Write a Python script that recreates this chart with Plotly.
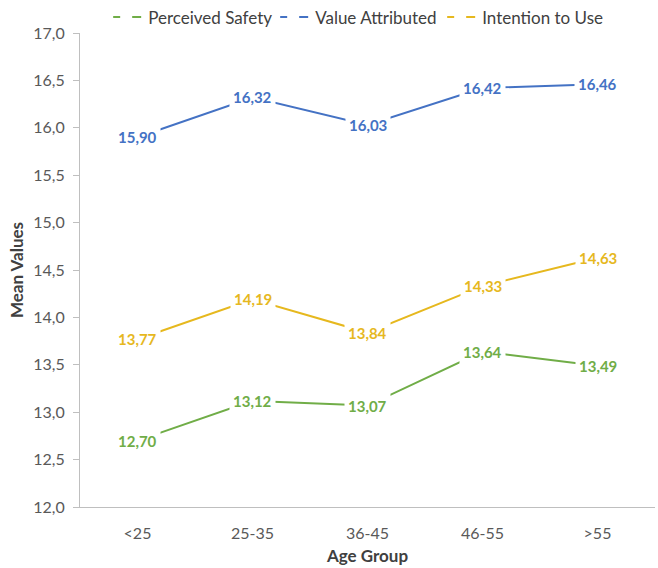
import plotly.graph_objects as go

age_groups = ["<25", "25-35", "36-45", "46-55", ">55"]
perceived_safety = [12.70, 13.12, 13.07, 13.64, 13.49]
value_attributed = [15.90, 16.32, 16.03, 16.42, 16.46]
intention_to_use = [13.77, 14.19, 13.84, 14.33, 14.63]

series = [
    ("Perceived Safety", perceived_safety, "#70AD47"),
    ("Value Attributed", value_attributed, "#4472C4"),
    ("Intention to Use", intention_to_use, "#E6B81E"),
]

FONT = "Lato, Calibri, Carlito, sans-serif"
TICK_GREY = "#595959"
TITLE_GREY = "#404040"
AXIS_GREY = "#BFBFBF"

fig = go.Figure()
annotations = []
for name, vals, color in series:
    # solid data line
    fig.add_trace(go.Scatter(
        x=age_groups, y=vals, mode="lines", name=name,
        line=dict(color=color, width=2), showlegend=False,
        hoverinfo="x+y",
    ))
    # legend key drawn as two short dashes
    fig.add_trace(go.Scatter(
        x=[None], y=[None], mode="lines", name=name,
        line=dict(color=color, width=2, dash="7px,12px,9px,30px"),
    ))
    for cat, v in zip(age_groups, vals):
        annotations.append(dict(
            x=cat, y=v, xref="x", yref="y", showarrow=False,
            text="<b>" + f"{v:.2f}".replace(".", ",") + "</b>",
            font=dict(family=FONT, size=15, color=color),
            bgcolor="white", borderpad=3,
        ))

fig.update_layout(
    width=658, height=568,
    margin=dict(l=80, r=3, t=33, b=61, autoexpand=False),
    paper_bgcolor="white", plot_bgcolor="white",
    separators=", ",
    font=dict(family=FONT, size=16, color=TICK_GREY),
    annotations=annotations,
    legend=dict(
        orientation="h", x=0.049, y=0.995, xanchor="left", yanchor="bottom",
        font=dict(family=FONT, size=17, color=TITLE_GREY),
        itemwidth=30, traceorder="normal",
        entrywidth=122, entrywidthmode="pixels",
        bgcolor="rgba(0,0,0,0)",
    ),
    xaxis=dict(
        type="category", range=[-0.5, 4.5],
        showline=True, linecolor=AXIS_GREY, linewidth=1,
        showgrid=False, ticks="", zeroline=False,
        ticklabelstandoff=12,
        tickfont=dict(family=FONT, size=16, color=TICK_GREY),
        title=dict(text="<b>Age Group</b>", standoff=8,
                   font=dict(family=FONT, size=17, color=TITLE_GREY)),
    ),
    yaxis=dict(
        range=[12, 17], dtick=0.5, tickformat=".1f",
        showline=True, linecolor=AXIS_GREY, linewidth=1,
        ticks="outside", ticklen=6, tickcolor=AXIS_GREY,
        ticklabelstandoff=5,
        showgrid=False, zeroline=False,
        tickfont=dict(family=FONT, size=16, color=TICK_GREY),
        title=dict(text="<b>Mean Values</b>", standoff=5,
                   font=dict(family=FONT, size=17, color=TITLE_GREY)),
    ),
)

fig.write_html("out.html")
